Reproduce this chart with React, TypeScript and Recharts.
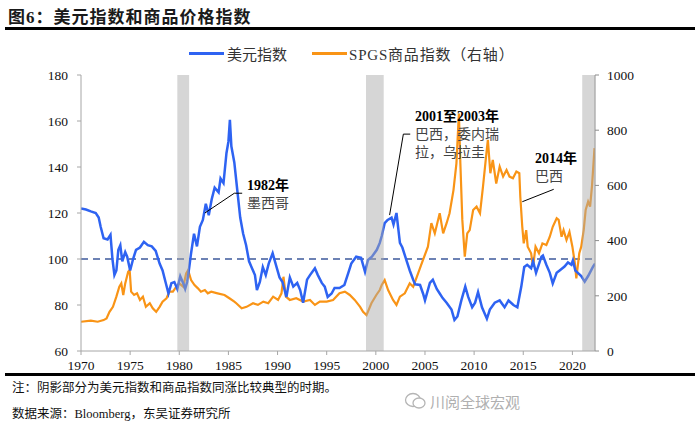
import React from "react";
import {
  ComposedChart,
  Line,
  XAxis,
  YAxis,
  ReferenceArea,
  ReferenceLine,
} from "recharts";

// ---------- data ----------
const usdYears = [
  1970.0, 1970.5, 1971.0, 1971.5, 1971.8, 1972.0, 1972.3, 1972.7, 1973.0, 1973.2,
  1973.4, 1973.6, 1973.8, 1974.0, 1974.2, 1974.5, 1974.7, 1975.0, 1975.3, 1975.6,
  1976.0, 1976.4, 1976.8, 1977.2, 1977.6, 1978.0, 1978.3, 1978.6, 1978.9, 1979.2,
  1979.5, 1979.8, 1980.1, 1980.4, 1980.6, 1980.8, 1981.0, 1981.2, 1981.5, 1981.8,
  1982.1, 1982.4, 1982.7, 1983.0, 1983.3, 1983.6, 1984.0, 1984.2, 1984.5, 1984.8,
  1985.0, 1985.15, 1985.3, 1985.6, 1985.9, 1986.2, 1986.5, 1986.8, 1987.1, 1987.4,
  1987.7, 1987.9, 1988.2, 1988.5, 1988.8, 1989.1, 1989.5, 1989.9, 1990.2, 1990.5,
  1990.9, 1991.25, 1991.6, 1992.0, 1992.3, 1992.6, 1993.0, 1993.3, 1993.8, 1994.1,
  1994.5, 1994.8, 1995.1, 1995.5, 1995.8, 1996.3, 1996.8, 1997.2, 1997.5, 1998.0,
  1998.5, 1998.9, 1999.2, 1999.6, 2000.1, 2000.4, 2000.6, 2000.9, 2001.2, 2001.6,
  2001.8, 2002.1, 2002.45, 2002.7, 2003.1, 2003.45, 2003.8, 2004.0, 2004.5, 2004.8,
  2005.0, 2005.5, 2005.8, 2006.2, 2006.5, 2006.8, 2007.2, 2007.7, 2008.0, 2008.3,
  2008.7, 2009.1, 2009.4, 2009.8, 2010.1, 2010.4, 2010.8, 2011.3, 2011.6, 2012.1,
  2012.6, 2013.1, 2013.5, 2014.0, 2014.4, 2014.8, 2015.1, 2015.4, 2015.8, 2016.0,
  2016.3, 2016.85, 2017.0, 2017.35, 2017.7, 2018.0, 2018.4, 2018.7, 2019.2, 2019.55,
  2019.9, 2020.05, 2020.3, 2020.55, 2020.9, 2021.25, 2021.6, 2022.1, 2022.3,
];
const usdValues = [
  122, 121.5, 120.7, 120, 118, 114, 109, 108.5, 110.5, 100,
  93, 95, 104, 106, 99, 103, 101, 95, 100, 104,
  105, 107.5, 106, 105.5, 103.5, 98, 95, 90, 85, 89.5,
  90, 87, 92.5, 89.5, 87, 90, 96, 102.5, 111, 105.5,
  114, 117, 124, 119, 126, 131, 129, 135, 133, 146,
  151, 160.5, 149, 142, 130, 118, 111, 106, 99, 96,
  93, 86.5, 90, 96.5, 93, 98, 102.5, 96.5, 92, 90,
  83.5, 92, 88, 89.6, 86.5, 81, 91, 93, 96, 93,
  89.6, 88, 83.5, 85, 87.4, 87.4, 88.7, 94, 98, 101,
  100.5, 94.4, 99.6, 101, 104, 107, 110, 115.6, 117, 118,
  115, 120, 107, 105, 99.6, 95, 91, 89, 88.7, 85,
  82, 89.6, 91, 87, 85, 83, 81, 78, 73.5, 75,
  82, 88, 83.5, 79, 81, 85.6, 79, 74, 78, 81,
  82, 79, 82, 80, 79, 88, 96.5, 97.5, 96, 99,
  94, 101, 101.5, 97.5, 94, 89.4, 94, 95, 96.7, 98.5,
  97.5, 99.4, 95, 94, 92.6, 90.2, 92.6, 96.7, 98,
];

const spgsYears = [
  1970.0, 1971.0, 1971.7, 1972.3, 1972.6, 1972.9, 1973.25, 1973.6, 1973.9, 1974.1,
  1974.3, 1974.5, 1974.8, 1974.95, 1975.1, 1975.4, 1975.7, 1976.0, 1976.3, 1976.6,
  1977.0, 1977.3, 1977.65, 1978.0, 1978.3, 1978.7, 1979.0, 1979.35, 1979.7, 1980.0,
  1980.4, 1980.7, 1980.9, 1981.2, 1981.55, 1981.9, 1982.2, 1982.6, 1982.9, 1983.25,
  1983.9, 1984.6, 1985.1, 1985.6, 1985.8, 1986.35, 1986.85, 1987.5, 1988.0, 1988.55,
  1989.05, 1989.55, 1990.05, 1990.4, 1990.6, 1990.85, 1991.25, 1991.9, 1992.6, 1993.3,
  1993.8, 1994.3, 1995.0, 1995.65, 1996.3, 1996.85, 1997.35, 1997.85, 1998.4, 1998.7,
  1999.05, 1999.55, 2000.05, 2000.4, 2000.6, 2000.9, 2001.25, 2001.75, 2002.1, 2002.45,
  2002.95, 2003.45, 2003.8, 2004.3, 2004.8, 2005.3, 2005.65, 2006.0, 2006.5, 2006.85,
  2007.2, 2007.5, 2007.9, 2008.2, 2008.45, 2008.6, 2008.8, 2009.05, 2009.3, 2009.55,
  2009.9, 2010.25, 2010.6, 2010.9, 2011.25, 2011.4, 2011.65, 2011.9, 2012.25, 2012.6,
  2012.95, 2013.3, 2013.6, 2013.95, 2014.3, 2014.6, 2014.7, 2014.9, 2015.05, 2015.3,
  2015.45, 2015.8, 2016.0, 2016.25, 2016.6, 2016.95, 2017.35, 2017.7, 2018.0, 2018.4,
  2018.6, 2018.9, 2019.1, 2019.4, 2019.7, 2020.0, 2020.25, 2020.4, 2020.7, 2020.9,
  2021.15, 2021.35, 2021.6, 2021.8, 2022.0, 2022.25,
];
const spgsValues = [
  106, 110, 106, 112, 118, 142, 160, 197, 233, 245,
  203, 245, 287, 293, 215, 203, 209, 185, 197, 160,
  173, 155, 142, 160, 179, 191, 215, 215, 233, 245,
  233, 281, 293, 257, 239, 227, 215, 221, 209, 215,
  209, 203, 191, 179, 173, 155, 160, 173, 167, 179,
  173, 197, 185, 209, 269, 197, 185, 191, 179, 185,
  167, 179, 179, 185, 209, 215, 203, 185, 160, 142,
  130, 173, 203, 221, 239, 257, 221, 185, 167, 197,
  209, 245, 233, 281, 330, 378, 463, 426, 499, 426,
  463, 499, 583, 680, 860, 680, 475, 342, 426, 438,
  511, 523, 499, 595, 716, 765, 644, 692, 607, 668,
  632, 656, 632, 626, 650, 644, 559, 450, 390, 438,
  378, 354, 305, 378, 354, 390, 384, 414, 450, 481,
  475, 414, 438, 402, 432, 378, 318, 263, 354, 378,
  438, 511, 541, 523, 600, 735,
];

const xTicks = [1970, 1975, 1980, 1985, 1990, 1995, 2000, 2005, 2010, 2015, 2020];
const leftTicks = [60, 80, 100, 120, 140, 160, 180];
const rightTicks = [0, 200, 400, 600, 800, 1000];
const shadeStarts = [1979.8, 1999.0, 2021.0];
const shadeEnds = [1981.0, 2000.8, 2022.3];

const usdData = usdYears.map((y, i) => ({ year: y, usd: usdValues[i] }));
const spgsData = spgsYears.map((y, i) => ({ year: y, spgs: spgsValues[i] }));

// ---------- styles ----------
const BLUE = "#2E63F2";
const ORANGE = "#F99416";
const SHADE = "rgba(170,170,170,0.48)";
const CJK = '"Liberation Serif", "Noto Sans CJK SC", serif';
const tickStyle = { fontSize: 13.5, fill: "#111", fontFamily: '"Liberation Serif", serif' };

const abs = (left: number, top: number, extra: React.CSSProperties = {}): React.CSSProperties => ({
  position: "absolute",
  left,
  top,
  whiteSpace: "nowrap",
  ...extra,
});

export default function App() {
  return (
    <div
      style={{
        position: "absolute",
        left: 0,
        top: 0,
        width: 700,
        height: 431,
        background: "#fff",
        fontFamily: CJK,
        overflow: "hidden",
      }}
    >
      {/* title */}
      <div style={abs(8, 3, { fontSize: 17, fontWeight: 700, letterSpacing: 1, color: "#1a1a1a" })}>
        图6：美元指数和商品价格指数
      </div>
      <div style={abs(5, 27, { width: 690, height: 2.5, background: "#000" })} />

      {/* legend */}
      <div style={abs(189, 52, { width: 35, height: 3, background: BLUE })} />
      <div style={abs(227, 43, { fontSize: 15, color: "#333" })}>美元指数</div>
      <div style={abs(312, 52, { width: 35, height: 3, background: ORANGE })} />
      <div style={abs(349, 43, { fontSize: 15, color: "#333", letterSpacing: 0.8 })}>
        SPGS商品指数（右轴）
      </div>

      <div style={abs(0, 0)}>
        <ComposedChart width={700} height={431} margin={{ top: 75, right: 45, bottom: 50, left: 20 }}>
          <XAxis
            xAxisId="x"
            type="number"
            dataKey="year"
            domain={[1970, 2022.3]}
            ticks={xTicks}
            allowDataOverflow
            height={30}
            tick={tickStyle}
            tickSize={4}
            tickMargin={5}
            stroke="#A6A6A6"
            interval={0}
          />
          <YAxis
            yAxisId="left"
            domain={[60, 180]}
            ticks={leftTicks}
            width={61}
            tick={tickStyle}
            tickSize={4}
            tickMargin={9}
            stroke="#A6A6A6"
            interval={0}
          />
          <YAxis
            yAxisId="right"
            orientation="right"
            domain={[0, 1000]}
            ticks={rightTicks}
            width={60}
            tick={tickStyle}
            tickSize={4}
            tickMargin={8}
            stroke="#8C8C8C"
            interval={0}
          />
          <ReferenceLine
            xAxisId="x"
            yAxisId="left"
            y={100}
            stroke="#3E5A9C"
            strokeWidth={1.6}
            strokeDasharray="7 5"
          />
          <Line
            xAxisId="x"
            yAxisId="right"
            data={spgsData}
            dataKey="spgs"
            type="linear"
            stroke={ORANGE}
            strokeWidth={2.2}
            dot={false}
            isAnimationActive={false}
          />
          <Line
            xAxisId="x"
            yAxisId="left"
            data={usdData}
            dataKey="usd"
            type="linear"
            stroke={BLUE}
            strokeWidth={2.5}
            dot={false}
            isAnimationActive={false}
          />
          {shadeStarts.map((s, i) => (
            <ReferenceArea
              key={i}
              xAxisId="x"
              yAxisId="left"
              x1={s}
              x2={shadeEnds[i]}
              y1={60}
              y2={180}
              fill={SHADE}
              fillOpacity={1}
              stroke="none"
              zIndex={1000}
            />
          ))}
          {/* annotation leader lines */}
          <ReferenceLine
            xAxisId="x"
            yAxisId="left"
            segment={[{ x: 1982.6, y: 120 }, { x: 1985.6, y: 128.6 }]}
            stroke="#000"
            strokeWidth={1}
          />
          <ReferenceLine
            xAxisId="x"
            yAxisId="left"
            segment={[{ x: 1985.6, y: 128.6 }, { x: 1986.4, y: 128.6 }]}
            stroke="#000"
            strokeWidth={1}
          />
          <ReferenceLine
            xAxisId="x"
            yAxisId="left"
            segment={[{ x: 2001.4, y: 119.1 }, { x: 2002.8, y: 154.3 }]}
            stroke="#000"
            strokeWidth={1}
          />
          <ReferenceLine
            xAxisId="x"
            yAxisId="left"
            segment={[{ x: 2002.8, y: 154.3 }, { x: 2003.5, y: 154.3 }]}
            stroke="#000"
            strokeWidth={1}
          />
          <ReferenceLine
            xAxisId="x"
            yAxisId="left"
            segment={[{ x: 2014.9, y: 124.9 }, { x: 2018.1, y: 130.3 }]}
            stroke="#000"
            strokeWidth={1}
          />
        </ComposedChart>
      </div>

      {/* annotations */}
      <div style={abs(247, 177, { fontSize: 14, lineHeight: "18px", color: "#000" })}>
        <div style={{ fontWeight: 700 }}>1982年</div>
        <div style={{ color: "#444" }}>墨西哥</div>
      </div>
      <div style={abs(415, 108, { fontSize: 14, lineHeight: "18px", color: "#000" })}>
        <div style={{ fontWeight: 700 }}>2001至2003年</div>
        <div style={{ color: "#444" }}>巴西，委内瑞</div>
        <div style={{ color: "#444" }}>拉，乌拉圭</div>
      </div>
      <div style={abs(535, 150, { fontSize: 14, lineHeight: "18px", color: "#000" })}>
        <div style={{ fontWeight: 700 }}>2014年</div>
        <div style={{ color: "#444" }}>巴西</div>
      </div>

      {/* bottom rule */}
      <div style={abs(5, 373, { width: 690, height: 2.5, background: "#000" })} />

      {/* footnotes */}
      <div style={abs(12, 377, { fontSize: 12.5, color: "#111" })}>
        注：阴影部分为美元指数和商品指数同涨比较典型的时期。
      </div>
      <div style={abs(12, 403, { fontSize: 12.5, color: "#111" })}>
        数据来源：Bloomberg，东吴证券研究所
      </div>

      {/* watermark */}
      <svg style={abs(404, 391)} width={24} height={20}>
        <ellipse cx={9} cy={9} rx={7.5} ry={6.5} fill="none" stroke="#B5B5B5" strokeWidth={1.3} />
        <ellipse cx={15} cy={12} rx={6} ry={5} fill="#fff" stroke="#B5B5B5" strokeWidth={1.3} />
      </svg>
      <div style={abs(430, 391, { fontSize: 15, color: "#B0B0B0", fontFamily: '"Noto Sans CJK SC", sans-serif' })}>
        川阅全球宏观
      </div>
    </div>
  );
}
